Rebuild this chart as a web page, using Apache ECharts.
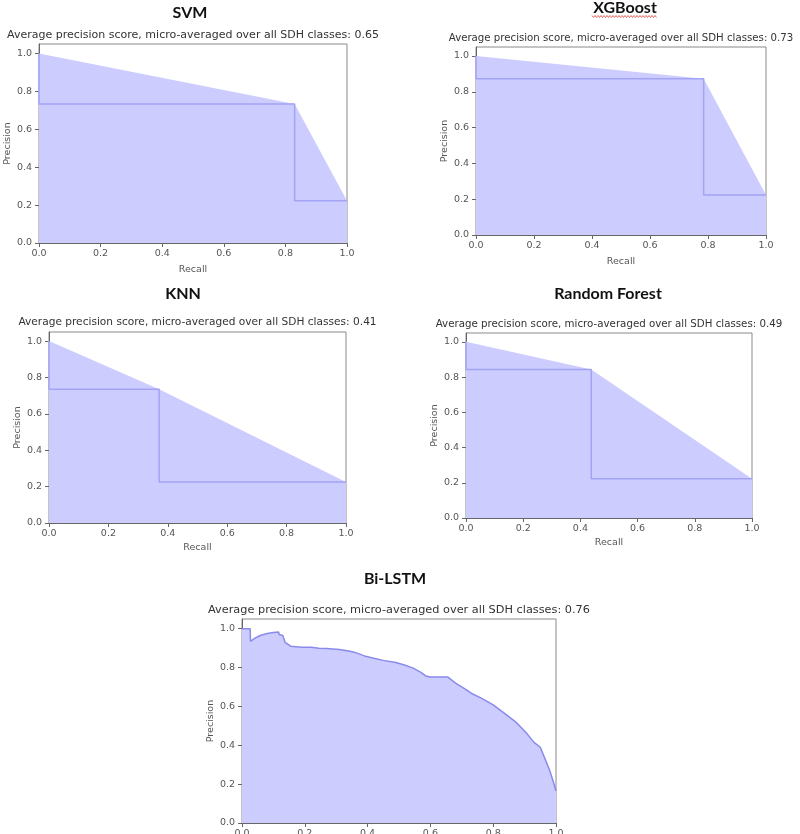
<!DOCTYPE html>
<html><head><meta charset="utf-8">
<script src="https://cdn.jsdelivr.net/npm/echarts@6.0.0/dist/echarts.min.js"></script>
<style>html,body{margin:0;padding:0;background:#fff}#c{width:800px;height:834px}</style>
</head><body><div id="c"></div>
<script>
// ---- data ----
const modelNames = ['SVM', 'XGBoost', 'KNN', 'Random Forest', 'Bi-LSTM'];
const apScores = ['0.65', '0.73', '0.41', '0.49', '0.76'];
const tickValues = [0, 0.2, 0.4, 0.6, 0.8, 1.0];

const svmRecall = [0, 0.83, 1];
const svmPrecision = [1, 0.733, 0.223];
const xgbRecall = [0, 0.785, 1];
const xgbPrecision = [1, 0.872, 0.223];
const knnRecall = [0, 0.371, 1];
const knnPrecision = [1, 0.735, 0.226];
const rfRecall = [0, 0.438, 1];
const rfPrecision = [1, 0.843, 0.223];
const bilstmRecall = [0, 0.026, 0.027, 0.04, 0.058, 0.08, 0.10, 0.117, 0.118, 0.13, 0.137, 0.155, 0.19, 0.22, 0.245, 0.27, 0.31, 0.34, 0.36, 0.39, 0.42, 0.45, 0.49, 0.52, 0.545, 0.57, 0.585, 0.60, 0.655, 0.68, 0.71, 0.73, 0.765, 0.80, 0.835, 0.86, 0.875, 0.89, 0.91, 0.93, 0.95, 0.965, 0.98, 0.99, 1.0];
const bilstmPrecision = [1.0, 1.0, 0.935, 0.95, 0.965, 0.975, 0.98, 0.983, 0.97, 0.965, 0.93, 0.91, 0.905, 0.905, 0.90, 0.898, 0.893, 0.885, 0.878, 0.86, 0.848, 0.837, 0.826, 0.812, 0.797, 0.775, 0.757, 0.752, 0.752, 0.72, 0.69, 0.668, 0.64, 0.608, 0.566, 0.535, 0.515, 0.49, 0.455, 0.415, 0.39, 0.33, 0.27, 0.22, 0.165];

const recalls = [svmRecall, xgbRecall, knnRecall, rfRecall, bilstmRecall];
const precisions = [svmPrecision, xgbPrecision, knnPrecision, rfPrecision, bilstmPrecision];

// ---- layout ----
const layout = [
  {left: 39, top: 44, width: 308, height: 199, tx: 190, ty: 13, sy: 35, sub: 11, tick: 9.5, yName: 26, xName: 22},
  {left: 476, top: 47, width: 290, height: 188, tx: 625, ty: 8, sy: 38, sub: 10.2, tick: 9.5, yName: 24, xName: 22},
  {left: 49, top: 332, width: 297, height: 191, tx: 183, ty: 294, sy: 322, sub: 10.6, tick: 9.5, yName: 24, xName: 20},
  {left: 466, top: 333, width: 286, height: 185, tx: 608, ty: 294, sy: 324, sub: 10.25, tick: 9.5, yName: 24, xName: 20},
  {left: 242, top: 619, width: 314, height: 204, tx: 395, ty: 579, sy: 610, sub: 11.3, tick: 9.5, yName: 26, xName: 22}
];

const FILL = '#ccccff';
const STEP = '#a3a3f5';
const LINE = '#8a8aec';
const FRAME = '#8a8a8a';
const FONT = 'DejaVu Sans';

const grids = [], xAxes = [], yAxes = [], series = [], graphics = [];
layout.forEach((L, i) => {
  grids.push({left: L.left, top: L.top, width: L.width, height: L.height, show: true,
    borderColor: FRAME, borderWidth: 1, containLabel: false, outerBoundsMode: 'none'});
  xAxes.push({gridIndex: i, type: 'value', min: 0, max: 1, interval: 0.2,
    axisLine: {show: true, onZero: false, lineStyle: {color: '#666', width: 1}},
    axisTick: {show: true, length: 4, lineStyle: {color: '#666'}},
    axisLabel: {fontFamily: FONT, fontSize: L.tick, color: '#555', margin: 6,
      formatter: v => v.toFixed(1)},
    splitLine: {show: false},
    name: 'Recall', nameLocation: 'middle', nameGap: L.xName,
    nameTextStyle: {fontFamily: FONT, fontSize: 9.5, color: '#555'}});
  yAxes.push({gridIndex: i, type: 'value', min: 0, max: 1.05,
    axisLine: {show: true, onZero: false, lineStyle: {color: '#666', width: 1}},
    axisTick: {show: true, length: 4, lineStyle: {color: '#666'}, customValues: tickValues},
    axisLabel: {fontFamily: FONT, fontSize: L.tick, color: '#555', margin: 7,
      customValues: tickValues,
      formatter: v => (v > 1.001 ? '' : v.toFixed(1))},
    splitLine: {show: false},
    name: 'Precision', nameLocation: 'middle', nameGap: L.yName,
    nameTextStyle: {fontFamily: FONT, fontSize: 9.5, color: '#555'}});

  const pts = recalls[i].map((r, k) => [r, precisions[i][k]]);
  const isCurve = i === 4;
  series.push({type: 'line', xAxisIndex: i, yAxisIndex: i, data: pts, symbol: 'none',
    silent: true, animation: false, z: 2,
    lineStyle: isCurve ? {color: LINE, width: 1.5} : {width: 0, opacity: 0},
    areaStyle: {color: FILL, opacity: 1}});
  if (!isCurve) {
    series.push({type: 'line', xAxisIndex: i, yAxisIndex: i, data: pts, symbol: 'none',
      step: 'start', silent: true, animation: false, z: 3,
      lineStyle: {color: STEP, width: 1.5}});
  }

  graphics.push({type: 'text', x: L.tx, y: L.ty, style: {text: modelNames[i],
    font: 'bold 16px Lato', fill: '#111', textAlign: 'center', textVerticalAlign: 'middle'}});
  graphics.push({type: 'text', x: L.left + L.width / 2, y: L.sy, style: {
    text: 'Average precision score, micro-averaged over all SDH classes: ' + apScores[i],
    font: L.sub + 'px "DejaVu Sans"', fill: '#333', textAlign: 'center', textVerticalAlign: 'middle'}});
});

// spell-check squiggle under "XGBoost"
const sq = [];
for (let x = 592, k = 0; x <= 657; x += 1.5, k++) sq.push([x, 16.5 + (k % 2 ? 1 : -1)]);
graphics.push({type: 'polyline', shape: {points: sq}, style: {stroke: '#e04040', lineWidth: 0.8, fill: null}});

const chart = echarts.init(document.getElementById('c'), null, {renderer: 'canvas'});
chart.setOption({
  animation: false,
  backgroundColor: '#fff',
  grid: grids, xAxis: xAxes, yAxis: yAxes, series: series, graphic: graphics
});
</script></body></html>
